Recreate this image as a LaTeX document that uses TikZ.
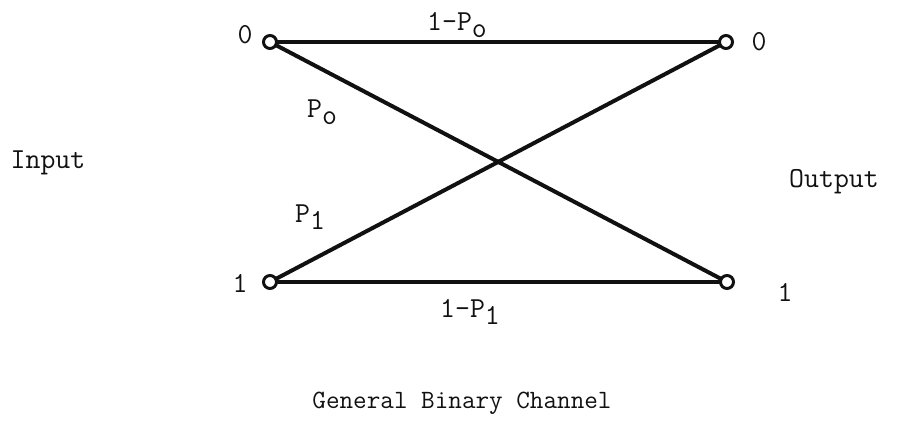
\documentclass[tikz,border=0pt]{standalone}
\usepackage{tikz}
\usetikzlibrary{positioning}
\definecolor{chInk}{HTML}{111111}
\tikzset{
 chan/.style={font=\fontsize{14.5}{17}\selectfont\ttfamily,text=chInk,line cap=round},
 term/.style={circle,draw=chInk,fill=white,line width=1.5pt,inner sep=0pt,minimum size=6.5pt},
 wire/.style={draw=chInk,line width=2pt},
 sym/.style={inner sep=1pt},
 title/.style={font=\fontsize{13.2}{15}\selectfont\ttfamily}
}
\newcommand{\lo}[1]{\raisebox{-.55ex}{#1}}

\begin{document}
\begin{tikzpicture}[chan,x=.5pt,y=-.5pt]
 \useasboundingbox (0,0) rectangle (914,425);
 \node[term] (in0) at (270,42) {};
 \node[term] (in1) at (270,282) {};
 \node[term] (out0) at (726,42) {};
 \node[term] (out1) at (727,282) {};
 \draw[wire] (in0)--(out0);
 \draw[wire] (in1)--(out1);
 \draw[wire] (in0)--(out1);
 \draw[wire] (in1)--(out0);
 \node[sym] (l0) at (245,35) {0};
 \node[sym] (l1) at (240,283) {1};
 \node[sym] (r0) at (759,42) {0};
 \node[sym] (r1) at (785,292) {1};
 \node (p00) at (457,25) {1-P\lo{o}};
 \node (p01) at (322,112) {P\lo{o}};
 \node (p10) at (310,217) {P\lo{1}};
 \node (p11) at (470,312) {1-P\lo{1}};
 \node (inp) at (48,163) {Input};
 \node (outp) at (834,182) {Output};
 \node[title] (cap) at (462,403) {General Binary Channel};
\end{tikzpicture}
\end{document}
